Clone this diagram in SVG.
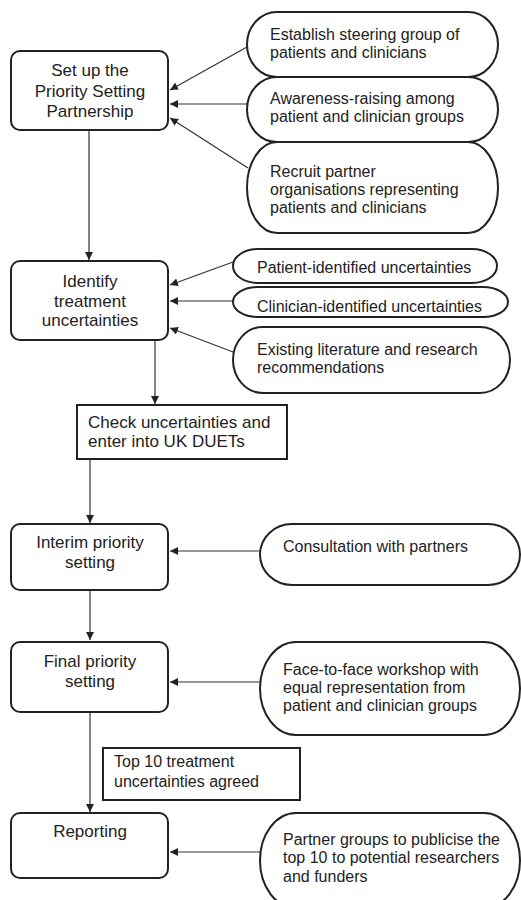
<svg xmlns="http://www.w3.org/2000/svg" width="521" height="900" viewBox="0 0 521 900">
<style>
.box{fill:#fff;stroke:#222;stroke-width:2}
.ov{fill:#fff;stroke:#222;stroke-width:2}
.t{font-family:"Liberation Sans",Arial,sans-serif;font-size:17px;fill:#222}
.s{font-family:"Liberation Sans",Arial,sans-serif;font-size:16px;fill:#222}
.c{text-anchor:middle}
.ln{stroke:#333;stroke-width:1.2;fill:none;marker-end:url(#ah)}
</style>
<defs>
<marker id="ah" viewBox="0 0 10 10" refX="10" refY="5" markerWidth="8" markerHeight="8" markerUnits="userSpaceOnUse" orient="auto">
<path d="M0,0 L10,5 L0,10 z" fill="#222"/>
</marker>
</defs>
<rect width="521" height="900" fill="#fff"/>
<g id="connectors">
<line class="ln" x1="89" y1="130" x2="89" y2="260"/>
<line class="ln" x1="247" y1="47" x2="170" y2="90"/>
<line class="ln" x1="247" y1="104" x2="170" y2="104"/>
<line class="ln" x1="248" y1="168" x2="170" y2="118"/>
<line class="ln" x1="233" y1="262" x2="170" y2="285"/>
<line class="ln" x1="233" y1="301" x2="170" y2="301"/>
<line class="ln" x1="233" y1="352" x2="170" y2="328"/>
<line class="ln" x1="155" y1="340" x2="155" y2="404"/>
<line class="ln" x1="90" y1="459" x2="90" y2="523"/>
<line class="ln" x1="260" y1="551" x2="170" y2="551"/>
<line class="ln" x1="90" y1="590" x2="90" y2="640"/>
<line class="ln" x1="260" y1="682" x2="170" y2="682"/>
<line class="ln" x1="90" y1="708" x2="90" y2="812"/>
<line class="ln" x1="260" y1="852" x2="170" y2="852"/>
</g>
<g id="setup">
<rect class="box" x="11" y="51" width="157" height="79" rx="9"/>
<text class="t c" x="90" y="76">Set up the</text>
<text class="t c" x="90" y="97">Priority Setting</text>
<text class="t c" x="90" y="117">Partnership</text>
</g>
<g id="steering">
<rect class="ov" x="247" y="12" width="251" height="65" rx="30" ry="32.5"/>
<text class="s" x="270" y="40">Establish steering group of</text>
<text class="s" x="270" y="58">patients and clinicians</text>
</g>
<g id="awareness">
<rect class="ov" x="247" y="77" width="251" height="65" rx="30" ry="32.5"/>
<text class="s" x="270" y="104">Awareness-raising among</text>
<text class="s" x="270" y="122">patient and clinician groups</text>
</g>
<g id="recruit">
<rect class="ov" x="247" y="142" width="251" height="91" rx="30" ry="45.5"/>
<text class="s" x="270" y="177">Recruit partner</text>
<text class="s" x="270" y="195">organisations representing</text>
<text class="s" x="270" y="213">patients and clinicians</text>
</g>
<g id="identify">
<rect class="box" x="11" y="261" width="157" height="79" rx="9"/>
<text class="t c" x="90" y="287">Identify</text>
<text class="t c" x="90" y="307">treatment</text>
<text class="t c" x="90" y="326">uncertainties</text>
</g>
<g id="patient">
<rect class="ov" x="233" y="249" width="264" height="34" rx="25" ry="17"/>
<text class="s" x="257" y="273">Patient-identified uncertainties</text>
</g>
<g id="clinician">
<rect class="ov" x="233" y="287" width="275" height="30" rx="25" ry="15"/>
<text class="s" x="257" y="312">Clinician-identified uncertainties</text>
</g>
<g id="literature">
<rect class="ov" x="233" y="327" width="277" height="66" rx="30" ry="33"/>
<text class="s" x="257" y="355">Existing literature and research</text>
<text class="s" x="257" y="373">recommendations</text>
</g>
<g id="check">
<rect class="box" x="77" y="405" width="210" height="54" rx="0"/>
<text class="t" x="88" y="428">Check uncertainties and</text>
<text class="t" x="88" y="447">enter into UK DUETs</text>
</g>
<g id="interim">
<rect class="box" x="11" y="524" width="157" height="66" rx="9"/>
<text class="t c" x="90" y="548">Interim priority</text>
<text class="t c" x="90" y="568">setting</text>
</g>
<g id="consultation">
<rect class="ov" x="260" y="524" width="260" height="61" rx="32" ry="30.5"/>
<text class="s" x="283" y="552">Consultation with partners</text>
</g>
<g id="final">
<rect class="box" x="11" y="642" width="157" height="70" rx="9"/>
<text class="t c" x="90" y="667">Final priority</text>
<text class="t c" x="90" y="687">setting</text>
</g>
<g id="workshop">
<rect class="ov" x="260" y="642" width="260" height="93" rx="36" ry="46.5"/>
<text class="s" x="283" y="675">Face-to-face workshop with</text>
<text class="s" x="283" y="693">equal representation from</text>
<text class="s" x="283" y="711">patient and clinician groups</text>
</g>
<g id="top10">
<rect class="box" x="103" y="748" width="197" height="52" rx="0"/>
<text class="s" x="114" y="767">Top 10 treatment</text>
<text class="s" x="114" y="787">uncertainties agreed</text>
</g>
<g id="reporting">
<rect class="box" x="11" y="813" width="157" height="65" rx="9"/>
<text class="t c" x="90" y="837">Reporting</text>
</g>
<g id="publicise">
<rect class="ov" x="260" y="813" width="260" height="95" rx="36" ry="47.5"/>
<text class="s" x="283" y="845">Partner groups to publicise the</text>
<text class="s" x="283" y="863">top 10 to potential researchers</text>
<text class="s" x="283" y="882">and funders</text>
</g>
</svg>
